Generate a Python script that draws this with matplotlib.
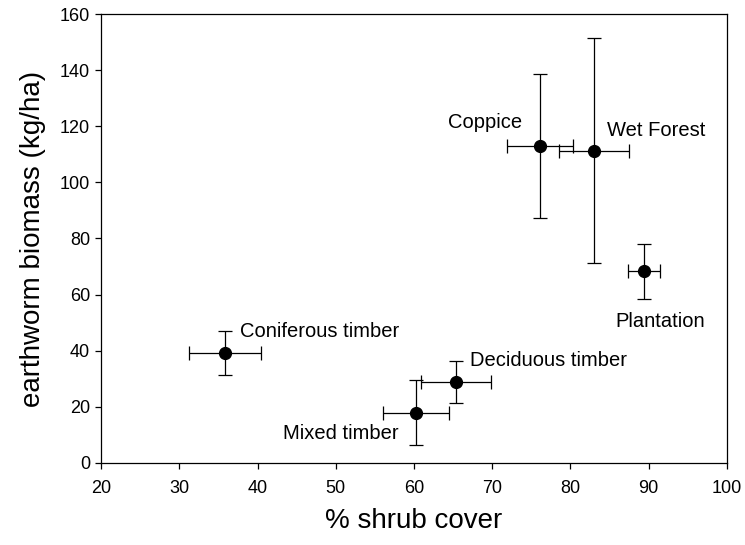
import numpy as np
import matplotlib.pyplot as plt

plt.rcParams['font.family'] = ['Liberation Sans', 'DejaVu Sans']

# habitat means and standard errors
habitats = ['Coniferous timber', 'Mixed timber', 'Deciduous timber',
            'Plantation', 'Coppice', 'Wet Forest']
shrub = [35.9, 60.3, 65.4, 89.4, 76.1, 83.0]
shrub_err = [4.6, 4.2, 4.5, 2.1, 4.2, 4.5]
biomass = [39.1, 17.9, 28.8, 68.4, 113.0, 111.3]
biomass_err = [7.8, 11.6, 7.5, 9.8, 25.6, 40.2]

# label offsets in points, relative to each point
offsets = [(10.8, 15.6, 'left'), (-13, -14.6, 'right'), (10, 15.6, 'left'),
           (11.3, -36.5, 'center'), (-39.6, 16.6, 'center'), (9.4, 14.4, 'left')]

fig = plt.figure(figsize=(7.45, 5.45), dpi=100)
ax = fig.add_axes([0.1356, 0.1505, 0.8402, 0.8238])

ax.errorbar(shrub, biomass, xerr=shrub_err, yerr=biomass_err, fmt='o',
            color='black', markersize=8.5, elinewidth=0.9, capsize=4.7,
            capthick=0.9)

for name, x, y, (dx, dy, ha) in zip(habitats, shrub, biomass, offsets):
    ax.annotate(name, (x, y), xytext=(dx, dy), textcoords='offset points',
                ha=ha, va='center', fontsize=14.5)

ax.set_xlim(20, 100)
ax.set_ylim(0, 160)
ax.set_xticks(np.arange(20, 101, 10))
ax.set_yticks(np.arange(0, 161, 20))
ax.tick_params(direction='out', length=4.5, width=0.9, labelsize=13,
               top=False, right=False)
ax.tick_params(axis='x', pad=8)
for s in ax.spines.values():
    s.set_linewidth(0.9)

ax.set_xlabel('% shrub cover', fontsize=20, labelpad=8)
ax.set_ylabel('earthworm biomass (kg/ha)', fontsize=20, labelpad=10)

fig.savefig('out.png', dpi=100)
